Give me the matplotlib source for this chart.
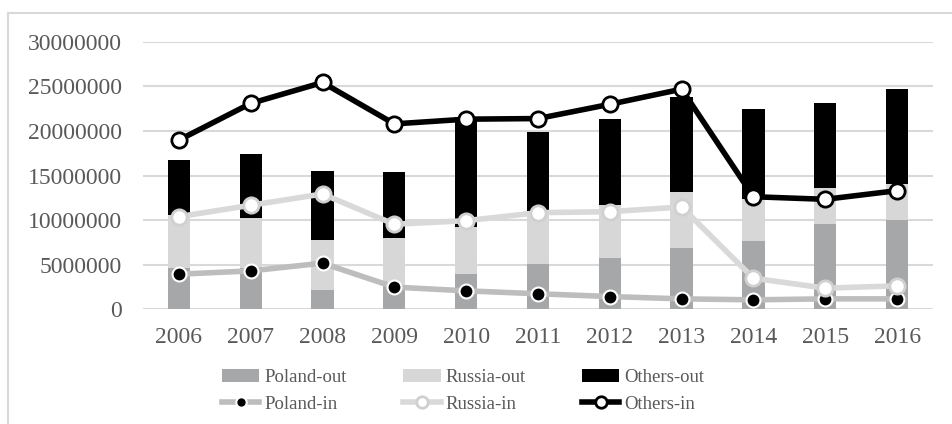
import numpy as np
import matplotlib
matplotlib.use("Agg")
import matplotlib.pyplot as plt
from matplotlib.lines import Line2D

years = ["2006", "2007", "2008", "2009", "2010", "2011",
         "2012", "2013", "2014", "2015", "2016"]

poland_out = [4.66e6, 4.6e6, 2.16e6, 2.6e6, 3.92e6, 5.04e6,
              5.79e6, 6.9e6, 7.62e6, 9.53e6, 10.05e6]
russia_out = [5.91e6, 5.6e6, 5.61e6, 5.36e6, 5.34e6, 5.96e6,
              5.91e6, 6.2e6, 4.78e6, 4.03e6, 3.95e6]
others_out = [6.23e6, 7.2e6, 7.73e6, 7.4e6, 12.34e6, 8.84e6,
              9.7e6, 10.7e6, 10.05e6, 9.54e6, 10.7e6]

poland_in = [3.92e6, 4.29e6, 5.16e6, 2.47e6, 2.05e6, 1.72e6,
             1.41e6, 1.15e6, 1.04e6, 1.15e6, 1.15e6]
russia_in = [10.38e6, 11.66e6, 12.93e6, 9.53e6, 9.93e6, 10.83e6,
             10.94e6, 11.47e6, 3.47e6, 2.35e6, 2.61e6]
others_in = [18.98e6, 23.1e6, 25.45e6, 20.8e6, 21.33e6, 21.4e6,
             23.0e6, 24.7e6, 12.62e6, 12.33e6, 13.3e6]

plt.rcParams['font.family'] = ['Liberation Serif', 'DejaVu Serif']

fig = plt.figure(figsize=(9.53, 4.24), dpi=100)
ax = fig.add_axes([0.150, 0.271, 0.829, 0.630])

# outer frame of the chart
fig.add_artist(Line2D([8 / 953, 8 / 953], [0, 1 - 13 / 424], color="#d9d9d9", lw=1.5))
fig.add_artist(Line2D([8 / 953, 1], [1 - 13 / 424, 1 - 13 / 424], color="#d9d9d9", lw=1.5))

x = np.arange(len(years))
w = 0.31
c_pol, c_rus, c_oth = "#a5a7a8", "#d6d7d6", "#000000"

b1 = ax.bar(x, poland_out, w, color=c_pol, label="Poland-out", zorder=2)
bottom = np.array(poland_out)
b2 = ax.bar(x, russia_out, w, bottom=bottom, color=c_rus, label="Russia-out", zorder=2)
bottom = bottom + np.array(russia_out)
b3 = ax.bar(x, others_out, w, bottom=bottom, color=c_oth, label="Others-out", zorder=2)

l1, = ax.plot(x, poland_in, color="#bdbdbd", lw=4, marker="o", ms=10,
              mfc="black", mec="white", mew=1.5, label="Poland-in", zorder=3)
l2, = ax.plot(x, russia_in, color="#d9d9d9", lw=4, marker="o", ms=11,
              mfc="white", mec="#d0d0d0", mew=2, label="Russia-in", zorder=3)
l3, = ax.plot(x, others_in, color="black", lw=4, marker="o", ms=11,
              mfc="white", mec="black", mew=2, label="Others-in", zorder=4)

ax.set_ylim(0, 30000000)
ax.set_xlim(-0.5, len(years) - 0.5)
ax.set_yticks(np.arange(0, 30000001, 5000000))
ax.set_yticklabels([str(v) for v in range(0, 30000001, 5000000)])
ax.set_xticks(x)
ax.set_xticklabels(years)
ax.grid(axis="y", color="#d9d9d9", lw=1.5, zorder=0)
ax.set_axisbelow(True)
for s in ax.spines.values():
    s.set_visible(False)
ax.tick_params(length=0, labelsize=17, colors="#595959")
ax.tick_params(axis="y", pad=15)
ax.tick_params(axis="x", pad=13)

handles = [b1, l1, b2, l2, b3, l3]
leg = fig.legend(handles, [h.get_label() for h in handles], ncol=3,
                 loc="center", bbox_to_anchor=(0.486, 0.078), frameon=False,
                 fontsize=13.5, handlelength=2.0, handletextpad=0.27,
                 columnspacing=3.0, labelspacing=0.5, markerscale=0.75)
for t in leg.get_texts():
    t.set_color("#595959")

fig.savefig("out.png", dpi=100)
